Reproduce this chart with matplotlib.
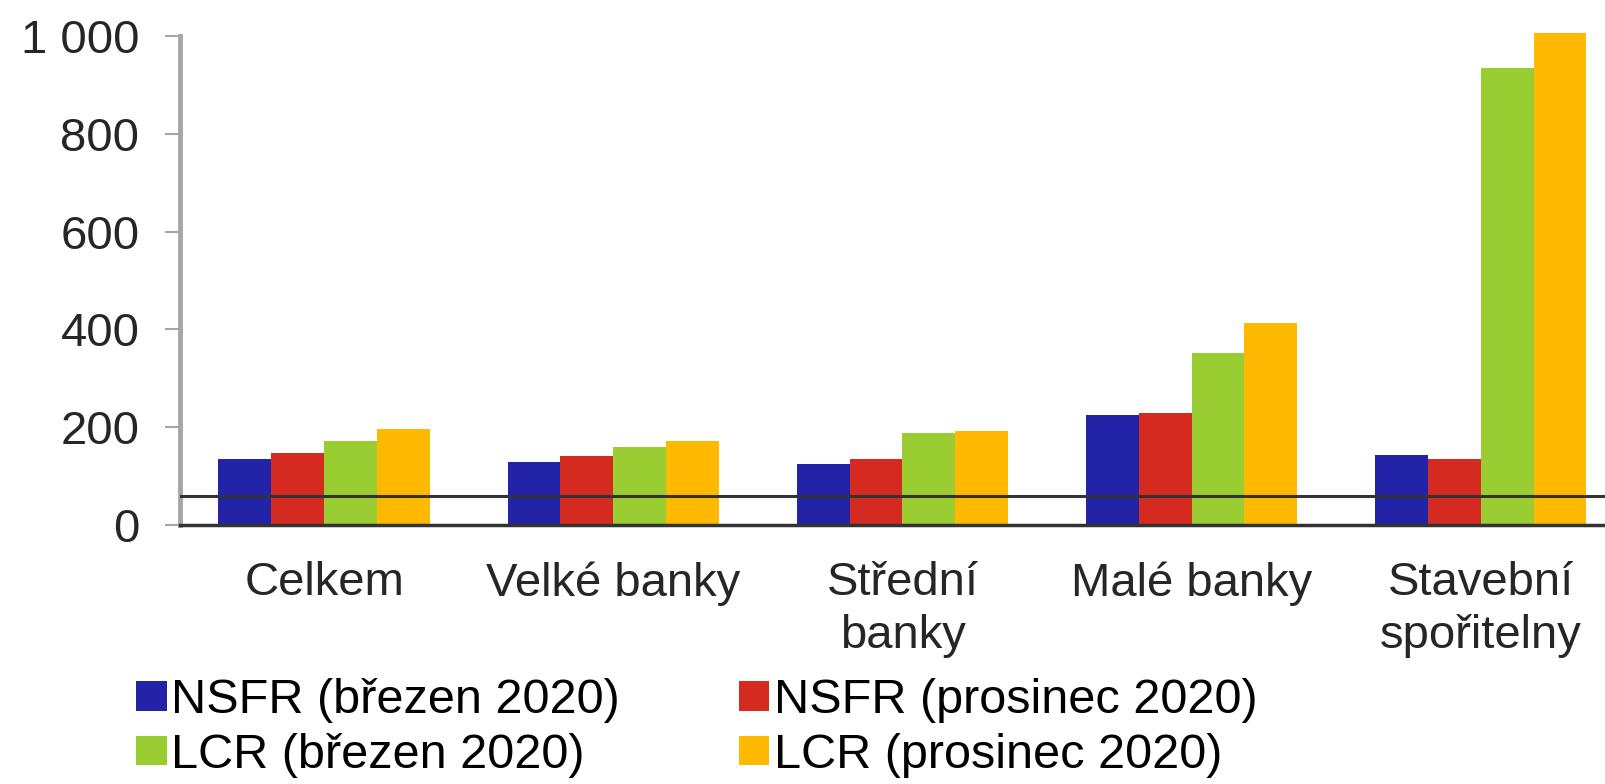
import matplotlib.pyplot as plt
import numpy as np
from matplotlib.ticker import FuncFormatter
from matplotlib.patches import Patch

plt.rcParams['font.family'] = ['Liberation Sans', 'DejaVu Sans']

categories = ["Celkem", "Velké banky", "Střední\nbanky", "Malé banky", "Stavební\nspořitelny"]
series_names = ["NSFR (březen 2020)", "NSFR (prosinec 2020)", "LCR (březen 2020)", "LCR (prosinec 2020)"]
nsfr_mar = [135, 128, 124, 225, 144]
nsfr_dec = [147, 141, 134, 229, 135]
lcr_mar = [172, 160, 188, 352, 935]
lcr_dec = [197, 172, 192, 414, 1007]
threshold = 60

colors = ["#2323A8", "#D52A20", "#9ACD32", "#FFB900"]
text_color = "#262626"


def main():
    fig = plt.figure(figsize=(16.05, 7.84), dpi=100)
    ax = fig.add_axes([0.112, 0.3304, 0.888, 0.6296])

    x = np.arange(len(categories))
    width = 0.183
    all_series = [nsfr_mar, nsfr_dec, lcr_mar, lcr_dec]
    for i, vals in enumerate(all_series):
        ax.bar(x + (i - 1.5) * width, vals, width, color=colors[i], zorder=2)

    # threshold line across the plot
    ax.axhline(threshold, color="#333333", lw=2.2, zorder=3)

    ax.set_xlim(-0.5, 4.43)
    ax.set_ylim(0, 1010)
    ax.set_yticks([0, 200, 400, 600, 800, 1000])
    ax.yaxis.set_major_formatter(FuncFormatter(lambda v, p: f"{int(v):,}".replace(",", " ")))
    ax.set_xticks(x)
    ax.set_xticklabels(categories, fontsize=34, color=text_color, linespacing=1.25)
    ax.tick_params(axis="x", length=0, pad=26)
    ax.tick_params(axis="y", labelsize=34, labelcolor=text_color, color="#A6A6A6",
                   length=11, width=1.5, pad=18)

    for s in ["top", "right"]:
        ax.spines[s].set_visible(False)
    ax.spines["left"].set_color("#A6A6A6")
    ax.spines["left"].set_linewidth(3.5)
    ax.spines["left"].set_bounds(0, 1000)
    ax.spines["bottom"].set_color("#333333")
    ax.spines["bottom"].set_linewidth(2.5)

    # legend fills row by row in the reference
    order = [0, 2, 1, 3]
    handles = [Patch(facecolor=colors[i]) for i in order]
    labels = [series_names[i] for i in order]
    fig.legend(handles, labels, loc="upper left", bbox_to_anchor=(0.085, 0.135),
               bbox_transform=fig.transFigure, ncol=2, frameon=False, fontsize=35,
               handlelength=0.62, handleheight=0.55, handletextpad=0.1,
               columnspacing=2.45, labelspacing=0.2, borderpad=0, borderaxespad=0)

    fig.savefig("out.png", dpi=100)


if __name__ == "__main__":
    main()
